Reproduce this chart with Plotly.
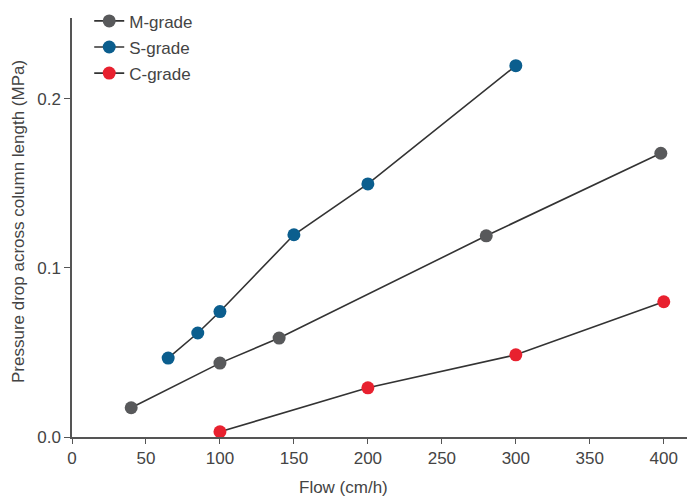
import plotly.graph_objects as go

m_flow = [40, 100, 140, 280, 398]
m_dp = [0.0173, 0.0437, 0.0585, 0.119, 0.1678]
s_flow = [65, 85, 100, 150, 200, 300]
s_dp = [0.0467, 0.0615, 0.0742, 0.1196, 0.1497, 0.2196]
c_flow = [100, 200, 300, 400]
c_dp = [0.0031, 0.0291, 0.0486, 0.080]

series = [
    ("M-grade", m_flow, m_dp, "#58595b"),
    ("S-grade", s_flow, s_dp, "#0b5e8e"),
    ("C-grade", c_flow, c_dp, "#e8212f"),
]

fig = go.Figure()
for name, x, y, col in series:
    fig.add_trace(go.Scatter(
        x=x, y=y, name=name, mode="lines+markers", legendgroup=name,
        line=dict(color="#333333", width=1.6),
        marker=dict(color=col, size=13),
    ))

font = "Liberation Sans, Arial, sans-serif"
tc = "#444444"
fig.update_layout(
    width=687, height=496,
    margin=dict(l=72, r=0, t=18, b=59),
    paper_bgcolor="white", plot_bgcolor="white",
    font=dict(family=font, size=17, color=tc),
    showlegend=True,
    legend=dict(x=0.028, y=1.035, xanchor="left", yanchor="top",
                bgcolor="rgba(0,0,0,0)", font=dict(size=17, color=tc),
                tracegroupgap=1),
    xaxis=dict(range=[0, 415.7], showgrid=False, zeroline=False,
               showline=True, linecolor="#555555", linewidth=1.5,
               ticks="outside", ticklen=5, tickcolor="#555555", tickwidth=1.2,
               tickvals=[0, 50, 100, 150, 200, 250, 300, 350, 400],
               tickfont=dict(size=17, color=tc)),
    yaxis=dict(range=[0, 0.2478], showgrid=False, zeroline=False,
               showline=True, linecolor="#555555", linewidth=1.5,
               ticks="outside", ticklen=6, tickcolor="#555555", tickwidth=1.2,
               tickvals=[0, 0.1, 0.2], ticktext=["0.0", "0.1", "0.2"],
               tickfont=dict(size=17, color=tc)),
    annotations=[
        dict(text="Flow (cm/h)", xref="paper", yref="paper",
             x=(343 - 72) / (687 - 72), y=-(487 - 437) / (437 - 18),
             xanchor="center", yanchor="middle",
             showarrow=False, font=dict(size=17, color=tc)),
        dict(text="Pressure drop across column length (MPa)", xref="paper", yref="paper",
             x=-(72 - 18) / (687 - 72), y=(437 - 222) / (437 - 18), textangle=-90,
             xanchor="center", yanchor="middle",
             showarrow=False, font=dict(size=17, color=tc)),
    ],
)

fig.write_html("out.html")
